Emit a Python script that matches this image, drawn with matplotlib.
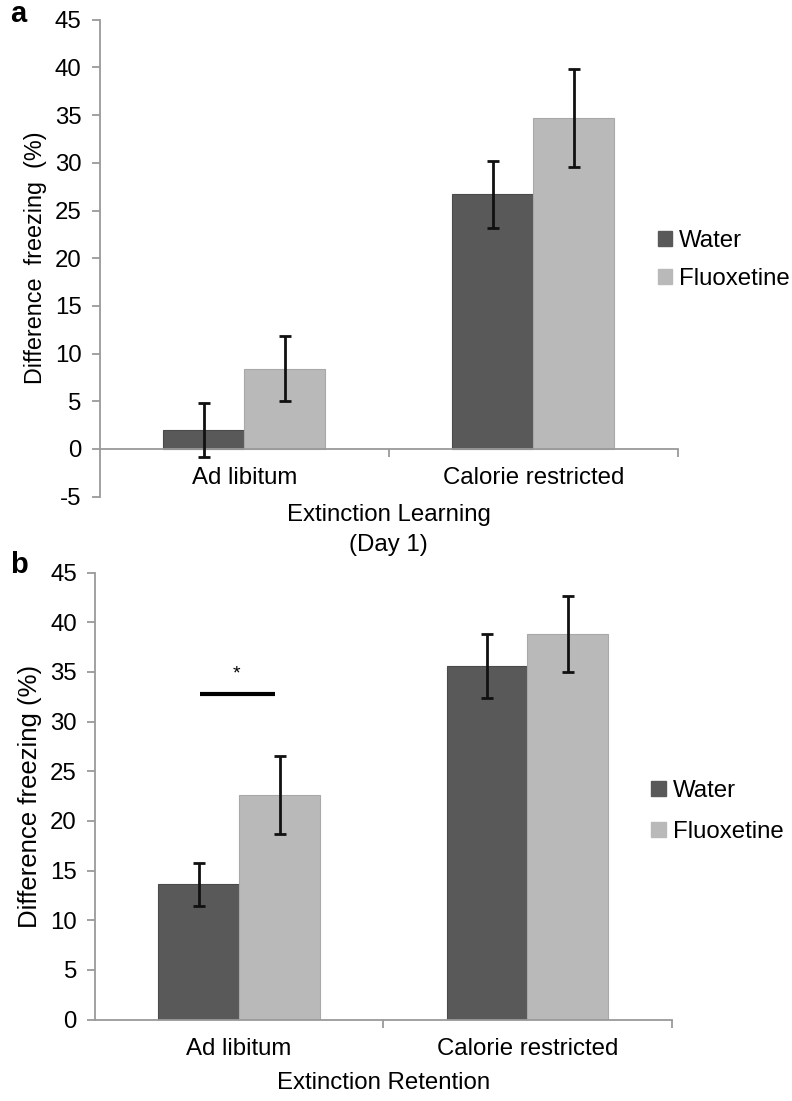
import matplotlib
matplotlib.use("Agg")
import matplotlib.pyplot as plt
from matplotlib.patches import Patch
import numpy as np

plt.rcParams['font.family'] = ['Liberation Sans', 'DejaVu Sans']

categories = ["Ad libitum", "Calorie restricted"]
series = ["Water", "Fluoxetine"]

# Panel a: Extinction Learning (Day 1)
a_water = [2.0, 26.7]
a_water_err = [2.8, 3.5]
a_fluox = [8.4, 34.7]
a_fluox_err = [3.4, 5.1]

# Panel b: Extinction Retention
b_water = [13.6, 35.6]
b_water_err = [2.2, 3.2]
b_fluox = [22.6, 38.8]
b_fluox_err = [3.9, 3.8]

sig_y = 32.8
sig_label = "*"

DARK = "#595959"
LIGHT = "#b9b9b9"
AXC = "#9a9a9a"
FS = 17.3

fig = plt.figure(figsize=(7.92, 11.01), dpi=100)

def style(ax, ylim, yticks, ylabel, ylfs):
    ax.set_xlim(0, 2)
    ax.set_ylim(*ylim)
    ax.set_yticks(yticks)
    ax.set_yticklabels([str(t) for t in yticks])
    ax.spines['top'].set_visible(False)
    ax.spines['right'].set_visible(False)
    for s in ('left', 'bottom'):
        ax.spines[s].set_color(AXC)
        ax.spines[s].set_linewidth(1.3)
    ax.spines['bottom'].set_position(('data', 0))
    ax.set_xticks([0.5, 1.5])
    ax.set_xticklabels(categories)
    ax.set_xticks([1, 2], minor=True)
    ax.tick_params(axis='x', which='major', length=0, labelsize=FS, pad=13)
    ax.tick_params(axis='x', which='minor', length=6, width=1.3, color=AXC, direction='out')
    ax.tick_params(axis='y', length=6, width=1.3, color=AXC, labelsize=FS, pad=7)
    ax.set_ylabel(ylabel, fontsize=ylfs, labelpad=6)

def draw(ax, w, we, f, fe):
    x = np.arange(len(categories)) + 0.5
    bw = 0.28
    ax.bar(x - bw / 2, w, bw, color=DARK, edgecolor="#4a4a4a", linewidth=0.8, zorder=2)
    ax.bar(x + bw / 2, f, bw, color=LIGHT, edgecolor="#a8a8a8", linewidth=0.8, zorder=2)
    ax.errorbar(x - bw / 2, w, yerr=we, fmt='none', ecolor='#111111', elinewidth=2,
                capsize=4.5, capthick=2, zorder=3)
    ax.errorbar(x + bw / 2, f, yerr=fe, fmt='none', ecolor='#111111', elinewidth=2,
                capsize=4.5, capthick=2, zorder=3)

legend_handles = [Patch(facecolor=DARK, edgecolor=DARK), Patch(facecolor=LIGHT, edgecolor=LIGHT)]

# Panel a
axa = fig.add_axes([0.126, 0.549, 0.730, 0.433])
draw(axa, a_water, a_water_err, a_fluox, a_fluox_err)
style(axa, (-5, 45), list(range(-5, 50, 5)), "Difference  freezing  (%)", 16.8)
axa.set_xlabel("Extinction Learning\n(Day 1)", fontsize=FS, labelpad=11, linespacing=1.45)
fig.legend(legend_handles, series, loc='center left', bbox_to_anchor=(0.803, 0.764),
           frameon=False, fontsize=FS, handlelength=0.6, handleheight=0.6,
           handletextpad=0.3, labelspacing=0.65)
fig.text(0.013, 0.987, "a", fontsize=21, fontweight='bold', va='center', ha='left')

# Panel b
axb = fig.add_axes([0.120, 0.074, 0.728, 0.406])
draw(axb, b_water, b_water_err, b_fluox, b_fluox_err)
style(axb, (0, 45), list(range(0, 50, 5)), "Difference freezing (%)", 18.5)
axb.set_xlabel("Extinction Retention", fontsize=FS, labelpad=9)
fig.legend(legend_handles, series, loc='center left', bbox_to_anchor=(0.795, 0.263),
           frameon=False, fontsize=FS, handlelength=0.6, handleheight=0.6,
           handletextpad=0.3, labelspacing=0.8)
fig.text(0.013, 0.487, "b", fontsize=21, fontweight='bold', va='center', ha='left')

axb.plot([0.365, 0.625], [sig_y, sig_y], color='black', lw=3, solid_capstyle='butt', zorder=4)
axb.text(0.49, sig_y + 2.0, sig_label, ha='center', va='center', fontsize=14)

fig.savefig("out.png", dpi=100)
